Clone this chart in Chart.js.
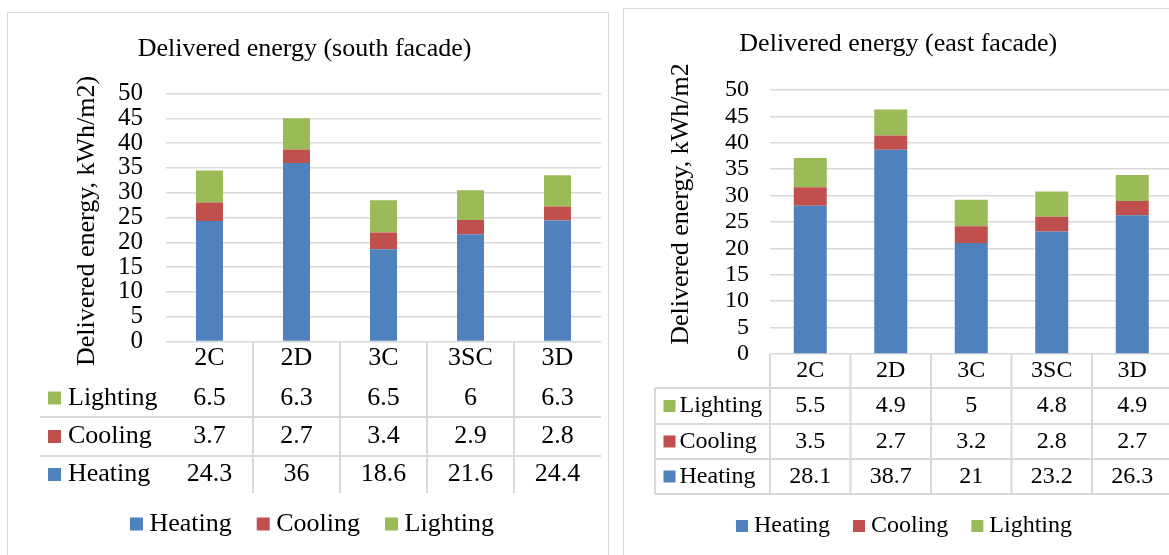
<!DOCTYPE html>
<html><head><meta charset="utf-8">
<script src="https://cdn.jsdelivr.net/npm/chart.js@4.4.1/dist/chart.umd.min.js"></script>
<style>
html,body{margin:0;padding:0;background:#fff;overflow:hidden;width:1169px;height:555px;position:relative}
.box{position:absolute;border:1px solid #d9d9d9;background:#fff;overflow:hidden}
#b1{left:7px;top:12px;width:600px;height:560px}
#b2{left:623px;top:8px;width:560px;height:560px}
canvas{position:absolute;left:0;top:0}
</style></head><body>
<div class="box" id="b1"><canvas id="c1" width="600" height="545"></canvas></div>
<div class="box" id="b2"><canvas id="c2" width="560" height="545"></canvas></div>
<script>
// ---- data ----
const categories = ['2C', '2D', '3C', '3SC', '3D'];
const seriesNames = ['Heating', 'Cooling', 'Lighting'];
const southHeating = [24.3, 36, 18.6, 21.6, 24.4];
const southCooling = [3.7, 2.7, 3.4, 2.9, 2.8];
const southLighting = [6.5, 6.3, 6.5, 6, 6.3];
const eastHeating = [28.1, 38.7, 21, 23.2, 26.3];
const eastCooling = [3.5, 2.7, 3.2, 2.8, 2.7];
const eastLighting = [5.5, 4.9, 5, 4.8, 4.9];
const yMin = 0, yMax = 50, yStep = 5;

// ---- style ----
const seriesColors = ['#4f81bd', '#c0504d', '#9bbb59'];
const FONT = '"Liberation Serif", "Times New Roman", serif';
Chart.defaults.font.family = FONT;
Chart.defaults.color = '#000';

const tablePlugin = {
  id: 'dataTable',
  afterDraw(chart, args, o) {
    const ctx = chart.ctx, xs = chart.scales.x, ca = chart.chartArea;
    const n = chart.data.labels.length;
    const px = i => xs.getPixelForValue(i);
    const step = px(1) - px(0);
    const E = o.rowEdges;
    const last = E[E.length - 1];
    ctx.save();
    ctx.strokeStyle = '#d9d9d9';
    ctx.lineWidth = o.lineWidth;
    const line = (x1, y1, x2, y2) => { ctx.beginPath(); ctx.moveTo(x1, y1); ctx.lineTo(x2, y2); ctx.stroke(); };
    const vFrom = o.fullGrid ? 0 : 1, vTo = o.fullGrid ? n : n - 1;
    for (let i = vFrom; i <= vTo; i++) {
      const x = px(0) - step / 2 + i * step;
      line(x, E[0], x, last);
    }
    if (o.fullGrid) {
      line(o.gridLeft, E[1], o.gridLeft, last);
      for (let r = 1; r < E.length; r++) line(o.gridLeft, E[r], ca.right + 30, E[r]);
    } else {
      for (let r = 2; r < E.length - 1; r++) line(o.gridLeft, E[r], ca.right, E[r]);
    }
    // rows
    const ds = chart.data.datasets;
    ctx.font = o.fontSize + 'px ' + FONT;
    ctx.textBaseline = 'middle';
    for (let r = 0; r < ds.length; r++) {
      const d = ds[ds.length - 1 - r];
      const yc = (E[r + 1] + E[r + 2]) / 2 + o.textShift;
      ctx.fillStyle = d.backgroundColor;
      ctx.fillRect(o.keyX, yc - o.keySize / 2, o.keySize, o.keySize);
      ctx.fillStyle = '#000';
      ctx.textAlign = 'left';
      ctx.fillText(d.label, o.labelX, yc);
      ctx.textAlign = 'center';
      d.data.forEach((v, i) => ctx.fillText(String(v), px(i), yc));
    }
    // legend
    ctx.font = o.legendSize + 'px ' + FONT;
    ctx.textAlign = 'left';
    const widths = ds.map(d => ctx.measureText(d.label).width);
    const total = widths.reduce((a, w) => a + o.legendKey + o.legendGap + w, 0) + o.itemGap * (ds.length - 1);
    let x = o.legendCenterX - total / 2;
    ds.forEach((d, k) => {
      ctx.fillStyle = d.backgroundColor;
      ctx.fillRect(x, o.legendY - o.legendKey / 2, o.legendKey, o.legendKey);
      x += o.legendKey + o.legendGap;
      ctx.fillStyle = '#000';
      ctx.fillText(d.label, x, o.legendY);
      x += widths[k] + o.itemGap;
    });
    // y axis title
    ctx.font = o.yTitleSize + 'px ' + FONT;
    ctx.translate(o.yTitleX, o.yTitleY);
    ctx.rotate(-Math.PI / 2);
    ctx.textAlign = 'center';
    ctx.fillText(o.yTitle, 0, 0);
    ctx.restore();
  }
};

function makeChart(id, values, L) {
  return new Chart(document.getElementById(id), {
    type: 'bar',
    data: {
      labels: categories,
      datasets: seriesNames.map((name, k) => ({
        label: name, data: values[k], backgroundColor: seriesColors[k], borderWidth: 0,
        barPercentage: L.barPct, categoryPercentage: 1
      }))
    },
    options: {
      responsive: false, animation: false,
      layout: { padding: { left: 0, top: 0, right: L.padRight, bottom: L.padBottom } },
      plugins: {
        legend: { display: false },
        tooltip: { enabled: false },
        title: {
          display: true, text: L.title, color: '#000',
          font: { size: L.titleSize, weight: 'normal', family: FONT, lineHeight: 1.2 },
          padding: { top: L.titlePadTop, bottom: L.titlePadBottom }
        },
        dataTable: L.table
      },
      scales: {
        x: {
          stacked: true,
          grid: { display: false, drawTicks: false },
          border: { display: false },
          ticks: { color: '#000', font: { size: L.tableSize }, padding: L.xTickPad, autoSkip: false, maxRotation: 0 },
          afterFit(s) { s.height = L.xHeight; }
        },
        y: {
          stacked: true, min: yMin, max: yMax,
          ticks: { stepSize: yStep, color: '#000', font: { size: L.tickSize }, padding: L.yTickPad, autoSkip: false },
          grid: { color: '#d9d9d9', lineWidth: 1.5, drawTicks: false },
          border: { display: false },
          afterFit(s) { s.width = L.yWidth; }
        }
      }
    },
    plugins: [tablePlugin]
  });
}

makeChart('c1', [southHeating, southCooling, southLighting], {
  title: 'Delivered energy (south facade)', titleSize: 26, titlePadTop: 21, titlePadBottom: 28.3,
  padRight: 7, padBottom: 16.5, xHeight: 200, yWidth: 158,
  tickSize: 25, tableSize: 26, xTickPad: 1, yTickPad: 23, barPct: 0.31,
  table: {
    rowEdges: [328.5, 366, 404, 443, 480], fullGrid: false, gridLeft: 32, lineWidth: 2,
    fontSize: 26, textShift: 0, keyX: 40, keySize: 13, labelX: 60,
    legendSize: 26, legendKey: 13, legendGap: 6.5, itemGap: 25, legendCenterX: 304, legendY: 511,
    yTitle: 'Delivered energy, kWh/m2)', yTitleSize: 26, yTitleX: 79, yTitleY: 208
  }
});

makeChart('c2', [eastHeating, eastCooling, eastLighting], {
  title: 'Delivered energy (east facade)', titleSize: 26, titlePadTop: 20, titlePadBottom: 29.8,
  padRight: 11.5, padBottom: 0, xHeight: 200, yWidth: 146,
  tickSize: 24, tableSize: 24, xTickPad: 2.6, yTickPad: 21, barPct: 0.41,
  table: {
    rowEdges: [345, 379, 415, 450, 485], fullGrid: true, gridLeft: 31, lineWidth: 2,
    fontSize: 24, textShift: 0, keyX: 39.5, keySize: 12, labelX: 55.5,
    legendSize: 24, legendKey: 12, legendGap: 6, itemGap: 23, legendCenterX: 280, legendY: 517,
    yTitle: 'Delivered energy, kWh/m2', yTitleSize: 26, yTitleX: 57, yTitleY: 195
  }
});
</script>
</body></html>
